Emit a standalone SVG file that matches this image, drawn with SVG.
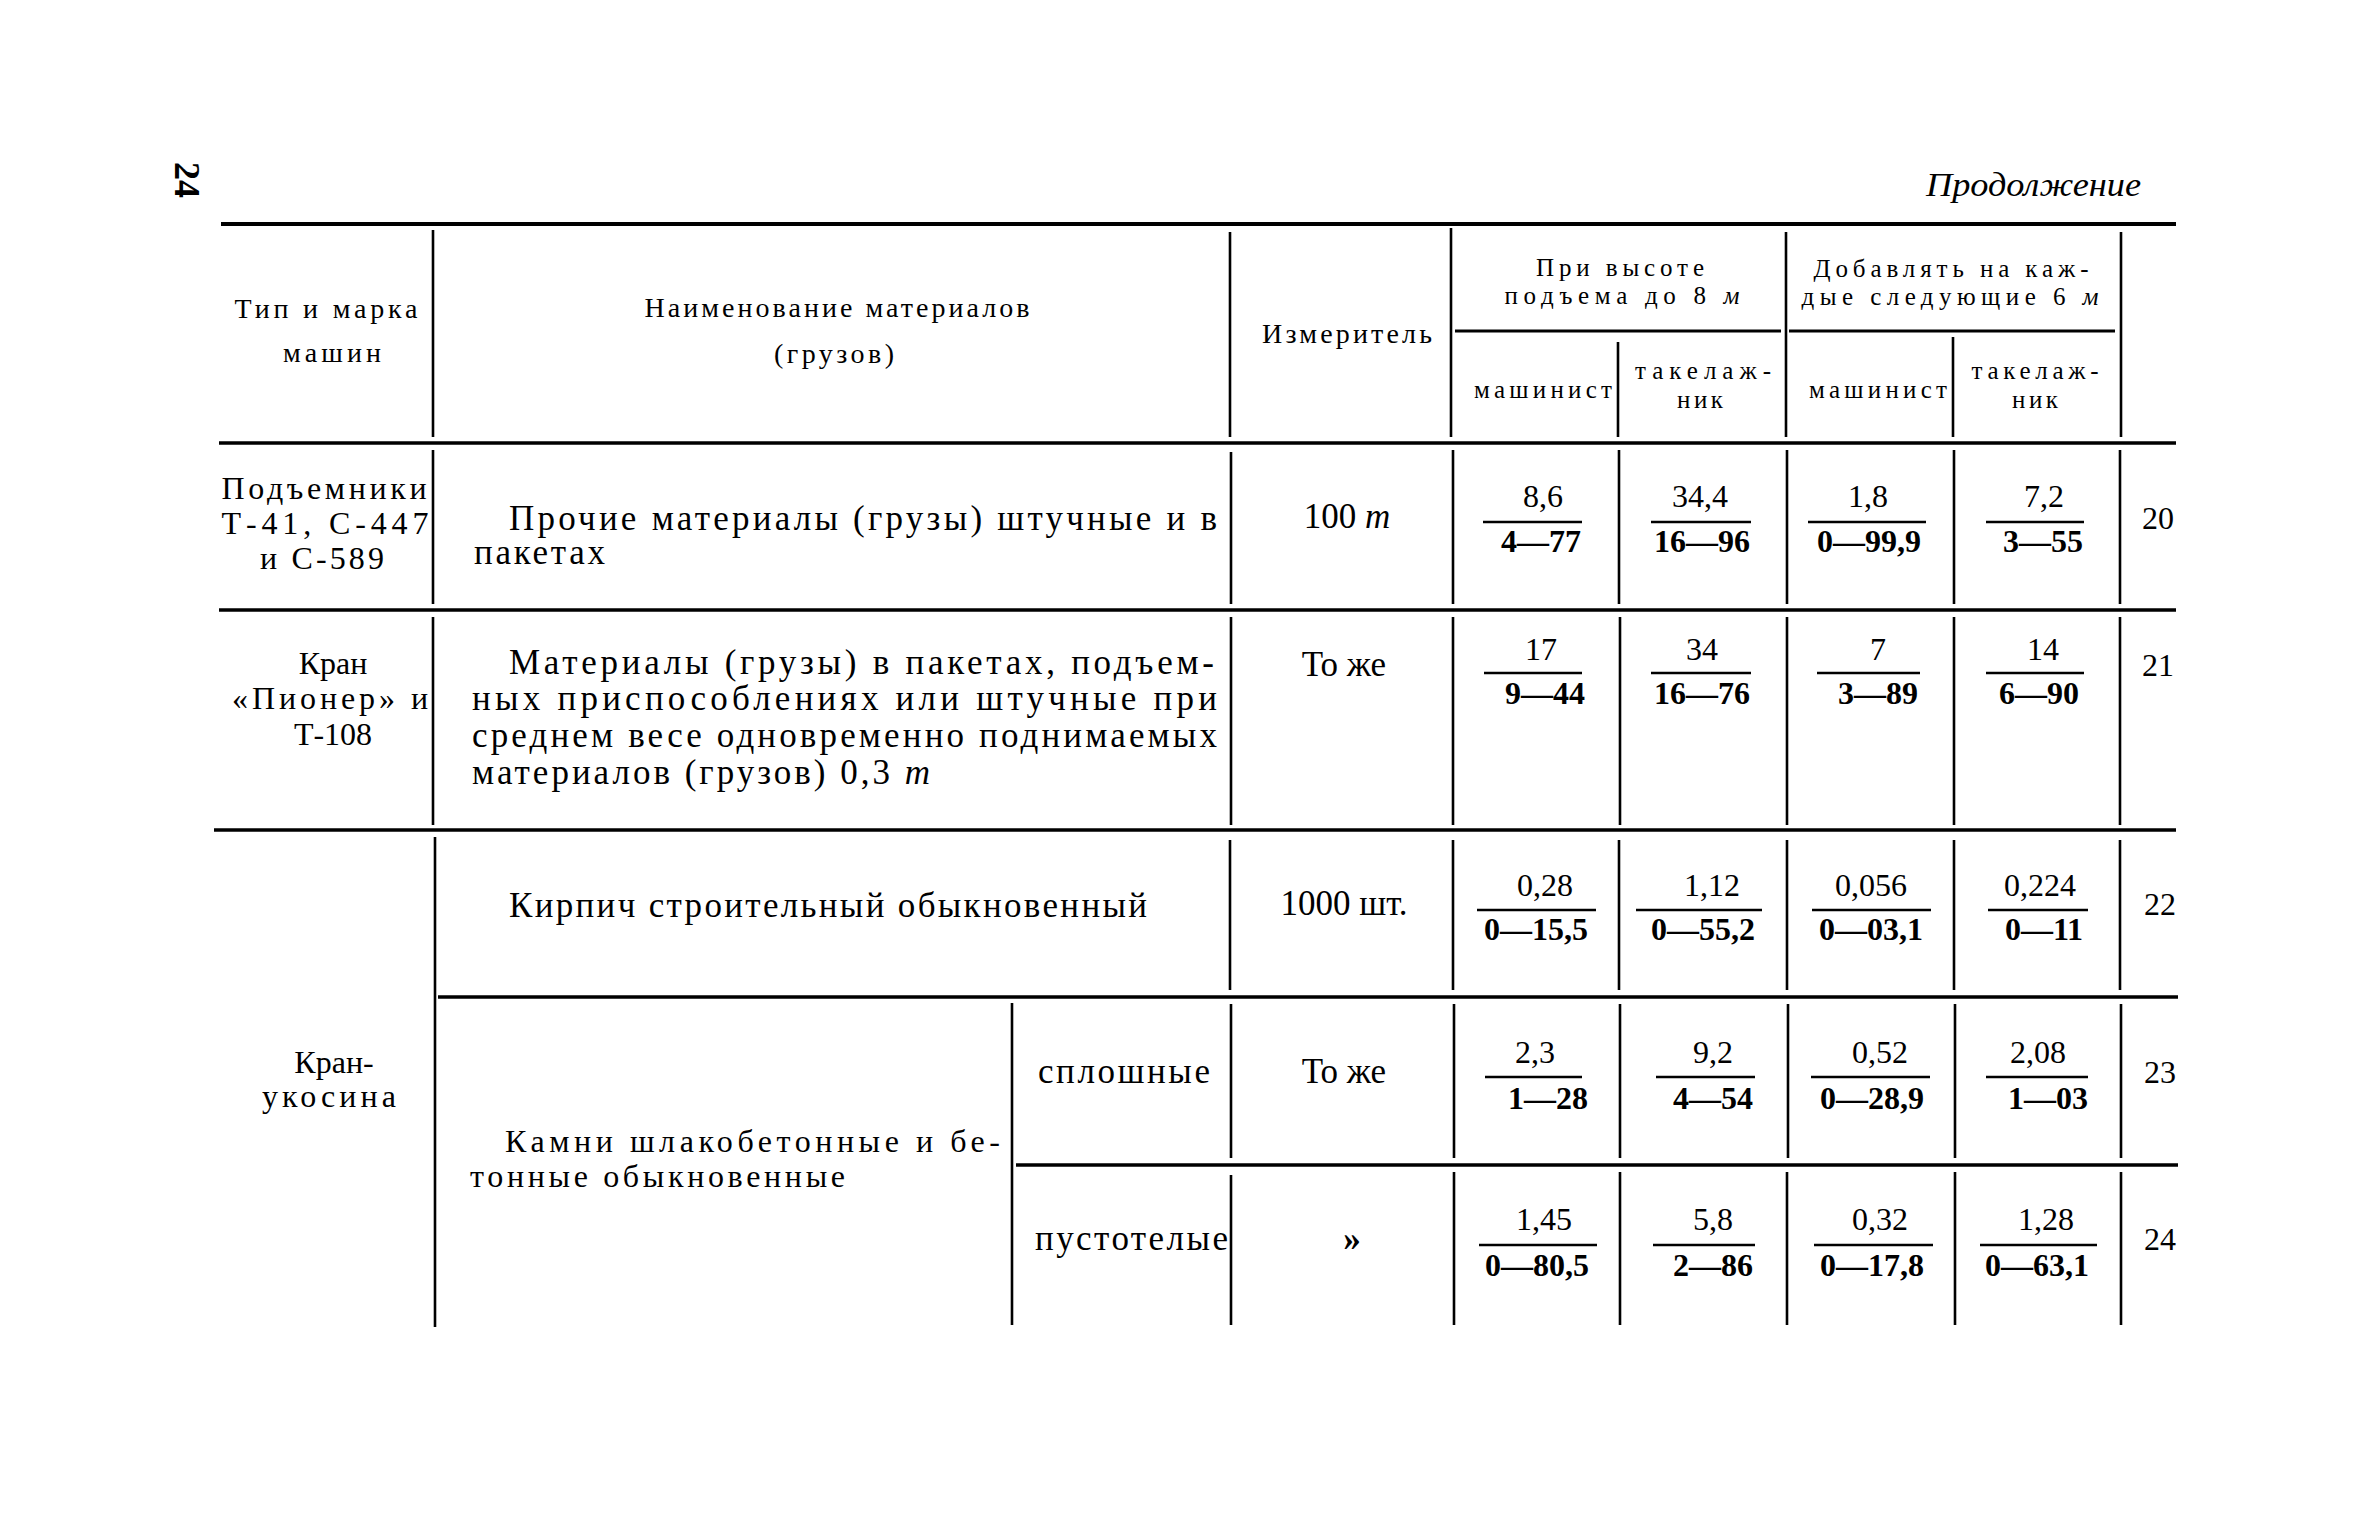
<svg xmlns="http://www.w3.org/2000/svg" width="2363" height="1535" viewBox="0 0 2363 1535">
<style>
text{font-family:"Liberation Serif","Times New Roman",serif;fill:#000}
.h{font-size:28px}
.h2{font-size:25px}
.s{font-size:25px}
.c{text-anchor:middle}
.t{font-size:35px}
.k{font-size:32px}
.n{font-size:32px;text-anchor:middle}
.d{font-size:32px;text-anchor:middle;font-weight:bold}
.i{font-style:italic}
.hr{stroke:#000;stroke-width:3.6;fill:none}
.vr{stroke:#000;stroke-width:2.6;fill:none}
.bar{stroke:#000;stroke-width:2.4}
</style>
<rect width="2363" height="1535" fill="#fff"/>
<g id="page-number"><text transform="translate(175,180) rotate(90)" style="font-size:36px;font-weight:bold;text-anchor:middle">24</text></g>
<g id="title"><text x="1926" y="196" class="i" style="font-size:34px" textLength="215" lengthAdjust="spacingAndGlyphs">Продолжение</text></g>

<g id="connectors">
<line class="hr" x1="221" y1="224" x2="2176" y2="224" style="stroke-width:4.2"/>
<line class="hr" x1="219" y1="443" x2="2176" y2="443"/>
<line class="hr" x1="219" y1="610" x2="2176" y2="610"/>
<line class="hr" x1="214" y1="830" x2="2176" y2="830"/>
<line class="hr" x1="438" y1="997" x2="2178" y2="997"/>
<line class="hr" x1="1016" y1="1165" x2="2178" y2="1165"/>
<line class="vr" x1="1455" y1="331" x2="1781" y2="331" style="stroke-width:3"/>
<line class="vr" x1="1789" y1="331" x2="2115" y2="331" style="stroke-width:3"/>
<path class="vr" d="M433 230V437M433 450V604M433 617V825M435 837V1327"/>
<path class="vr" d="M1230 232V437M1231 452V604M1231 617V825M1230 840V990M1231 1004V1158M1231 1175V1325"/>
<path class="vr" d="M1012 1003V1325"/>
<path class="vr" d="M1451 228V437M1453 450V604M1453 617V825M1453 840V990M1454 1004V1158M1454 1172V1325"/>
<path class="vr" d="M1618 342V437M1619 450V604M1620 617V825M1619 840V990M1620 1004V1158M1620 1172V1325"/>
<path class="vr" d="M1786 232V437M1787 450V604M1787 617V825M1787 840V990M1788 1004V1158M1787 1172V1325"/>
<path class="vr" d="M1953 337V437M1954 450V604M1954 617V825M1954 840V990M1955 1004V1158M1955 1172V1325"/>
<path class="vr" d="M2121 232V437M2120 450V604M2120 617V825M2120 840V990M2121 1004V1158M2121 1172V1325"/>
</g>

<g id="hdr-type"><text class="h c" x="326" y="318" textLength="183" lengthAdjust="spacing">Тип и марка</text><text class="h c" x="332" y="362" textLength="98" lengthAdjust="spacing">машин</text></g>
<g id="hdr-name"><text class="h c" x="837" y="317" textLength="385" lengthAdjust="spacing">Наименование материалов</text><text class="h c" x="834" y="363" textLength="120" lengthAdjust="spacing">(грузов)</text></g>
<g id="hdr-unit"><text class="h c" x="1347" y="343" textLength="170" lengthAdjust="spacing">Измеритель</text></g>
<g id="hdr-h8"><text class="h2 c" x="1620" y="276" textLength="168" lengthAdjust="spacing">При высоте</text><text class="h2 c" x="1622" y="304" textLength="235" lengthAdjust="spacing">подъема до 8 <tspan class="i">м</tspan></text></g>
<g id="hdr-add6"><text class="h2 c" x="1951" y="277" textLength="275" lengthAdjust="spacing">Добавлять на каж-</text><text class="h2 c" x="1950" y="305" textLength="297" lengthAdjust="spacing">дые следующие 6 <tspan class="i">м</tspan></text></g>
<g id="hdr-m1"><text class="s c" x="1543" y="398" textLength="138" lengthAdjust="spacing">машинист</text></g>
<g id="hdr-t1"><text class="s c" x="1703" y="379" textLength="136" lengthAdjust="spacing">такелаж-</text><text class="s c" x="1700" y="408" textLength="46" lengthAdjust="spacing">ник</text></g>
<g id="hdr-m2"><text class="s c" x="1878" y="398" textLength="138" lengthAdjust="spacing">машинист</text></g>
<g id="hdr-t2"><text class="s c" x="2035" y="379" textLength="127" lengthAdjust="spacing">такелаж-</text><text class="s c" x="2035" y="408" textLength="46" lengthAdjust="spacing">ник</text></g>

<g id="r20-type"><text class="k c" x="324" y="499" textLength="205" lengthAdjust="spacing">Подъемники</text><text class="k c" x="325" y="534" textLength="207" lengthAdjust="spacing">Т-41, С-447</text><text class="k c" x="322" y="569" textLength="124" lengthAdjust="spacing">и С-589</text></g>
<g id="r20-name"><text class="t" x="509" y="530" textLength="708" lengthAdjust="spacing">Прочие материалы (грузы) штучные и в</text><text class="t" x="474" y="564" textLength="131" lengthAdjust="spacing">пакетах</text></g>
<g id="r20-unit"><text class="t c" x="1347" y="528">100 <tspan class="i">т</tspan></text></g>
<g id="r20-c1"><text class="n" x="1543" y="507">8,6</text><line class="bar" x1="1483" y1="522" x2="1582" y2="522"/><text class="d" x="1541" y="552">4—77</text></g>
<g id="r20-c2"><text class="n" x="1700" y="507">34,4</text><line class="bar" x1="1651" y1="522" x2="1751" y2="522"/><text class="d" x="1702" y="552">16—96</text></g>
<g id="r20-c3"><text class="n" x="1868" y="507">1,8</text><line class="bar" x1="1808" y1="522" x2="1926" y2="522"/><text class="d" x="1869" y="552">0—99,9</text></g>
<g id="r20-c4"><text class="n" x="2044" y="507">7,2</text><line class="bar" x1="1986" y1="522" x2="2084" y2="522"/><text class="d" x="2043" y="552">3—55</text></g>
<g id="r20-no"><text class="n" x="2158" y="529">20</text></g>

<g id="r21-type"><text class="k c" x="333" y="674">Кран</text><text class="k c" x="330" y="709" textLength="196" lengthAdjust="spacing">«Пионер» и</text><text class="k c" x="333" y="745">Т-108</text></g>
<g id="r21-name"><text class="t" x="509" y="674" textLength="705" lengthAdjust="spacing">Материалы (грузы) в пакетах, подъем-</text><text class="t" x="472" y="710" textLength="745" lengthAdjust="spacing">ных приспособлениях или штучные при</text><text class="t" x="472" y="747" textLength="745" lengthAdjust="spacing">среднем весе одновременно поднимаемых</text><text class="t" x="472" y="784" textLength="458" lengthAdjust="spacing">материалов (грузов) 0,3 <tspan class="i">т</tspan></text></g>
<g id="r21-unit"><text class="t c" x="1344" y="676">То же</text></g>
<g id="r21-c1"><text class="n" x="1541" y="660">17</text><line class="bar" x1="1484" y1="673" x2="1582" y2="673"/><text class="d" x="1545" y="704">9—44</text></g>
<g id="r21-c2"><text class="n" x="1702" y="660">34</text><line class="bar" x1="1651" y1="673" x2="1751" y2="673"/><text class="d" x="1702" y="704">16—76</text></g>
<g id="r21-c3"><text class="n" x="1878" y="660">7</text><line class="bar" x1="1817" y1="673" x2="1920" y2="673"/><text class="d" x="1878" y="704">3—89</text></g>
<g id="r21-c4"><text class="n" x="2043" y="660">14</text><line class="bar" x1="1986" y1="673" x2="2084" y2="673"/><text class="d" x="2039" y="704">6—90</text></g>
<g id="r21-no"><text class="n" x="2158" y="676">21</text></g>

<g id="r22-24-type"><text class="k c" x="334" y="1073">Кран-</text><text class="k c" x="329" y="1107" textLength="134" lengthAdjust="spacing">укосина</text></g>
<g id="r22-name"><text class="t" x="509" y="917" textLength="638" lengthAdjust="spacing">Кирпич строительный обыкновенный</text></g>
<g id="r22-unit"><text class="t c" x="1344" y="915">1000 шт.</text></g>
<g id="r22-c1"><text class="n" x="1545" y="896">0,28</text><line class="bar" x1="1477" y1="910" x2="1596" y2="910"/><text class="d" x="1536" y="940">0—15,5</text></g>
<g id="r22-c2"><text class="n" x="1712" y="896">1,12</text><line class="bar" x1="1636" y1="910" x2="1762" y2="910"/><text class="d" x="1703" y="940">0—55,2</text></g>
<g id="r22-c3"><text class="n" x="1871" y="896">0,056</text><line class="bar" x1="1812" y1="910" x2="1931" y2="910"/><text class="d" x="1871" y="940">0—03,1</text></g>
<g id="r22-c4"><text class="n" x="2040" y="896">0,224</text><line class="bar" x1="1988" y1="910" x2="2088" y2="910"/><text class="d" x="2044" y="940">0—11</text></g>
<g id="r22-no"><text class="n" x="2160" y="915">22</text></g>

<g id="r23-24-name"><text class="k" x="505" y="1152" textLength="495" lengthAdjust="spacing">Камни шлакобетонные и бе-</text><text class="k" x="470" y="1187" textLength="375" lengthAdjust="spacing">тонные обыкновенные</text></g>
<g id="r23-sub"><text class="t" x="1038" y="1083" textLength="172" lengthAdjust="spacing">сплошные</text></g>
<g id="r23-unit"><text class="t c" x="1344" y="1083">То же</text></g>
<g id="r23-c1"><text class="n" x="1535" y="1063">2,3</text><line class="bar" x1="1485" y1="1077" x2="1582" y2="1077"/><text class="d" x="1548" y="1109">1—28</text></g>
<g id="r23-c2"><text class="n" x="1713" y="1063">9,2</text><line class="bar" x1="1656" y1="1077" x2="1755" y2="1077"/><text class="d" x="1713" y="1109">4—54</text></g>
<g id="r23-c3"><text class="n" x="1880" y="1063">0,52</text><line class="bar" x1="1811" y1="1077" x2="1930" y2="1077"/><text class="d" x="1872" y="1109">0—28,9</text></g>
<g id="r23-c4"><text class="n" x="2038" y="1063">2,08</text><line class="bar" x1="1986" y1="1077" x2="2088" y2="1077"/><text class="d" x="2048" y="1109">1—03</text></g>
<g id="r23-no"><text class="n" x="2160" y="1083">23</text></g>

<g id="r24-sub"><text class="t" x="1035" y="1250" textLength="193" lengthAdjust="spacing">пустотелые</text></g>
<g id="r24-unit"><text class="t c" x="1352" y="1250" style="font-weight:bold">»</text></g>
<g id="r24-c1"><text class="n" x="1544" y="1230">1,45</text><line class="bar" x1="1479" y1="1245" x2="1597" y2="1245"/><text class="d" x="1537" y="1276">0—80,5</text></g>
<g id="r24-c2"><text class="n" x="1713" y="1230">5,8</text><line class="bar" x1="1653" y1="1245" x2="1755" y2="1245"/><text class="d" x="1713" y="1276">2—86</text></g>
<g id="r24-c3"><text class="n" x="1880" y="1230">0,32</text><line class="bar" x1="1814" y1="1245" x2="1933" y2="1245"/><text class="d" x="1872" y="1276">0—17,8</text></g>
<g id="r24-c4"><text class="n" x="2046" y="1230">1,28</text><line class="bar" x1="1980" y1="1245" x2="2097" y2="1245"/><text class="d" x="2037" y="1276">0—63,1</text></g>
<g id="r24-no"><text class="n" x="2160" y="1250">24</text></g>
</svg>
